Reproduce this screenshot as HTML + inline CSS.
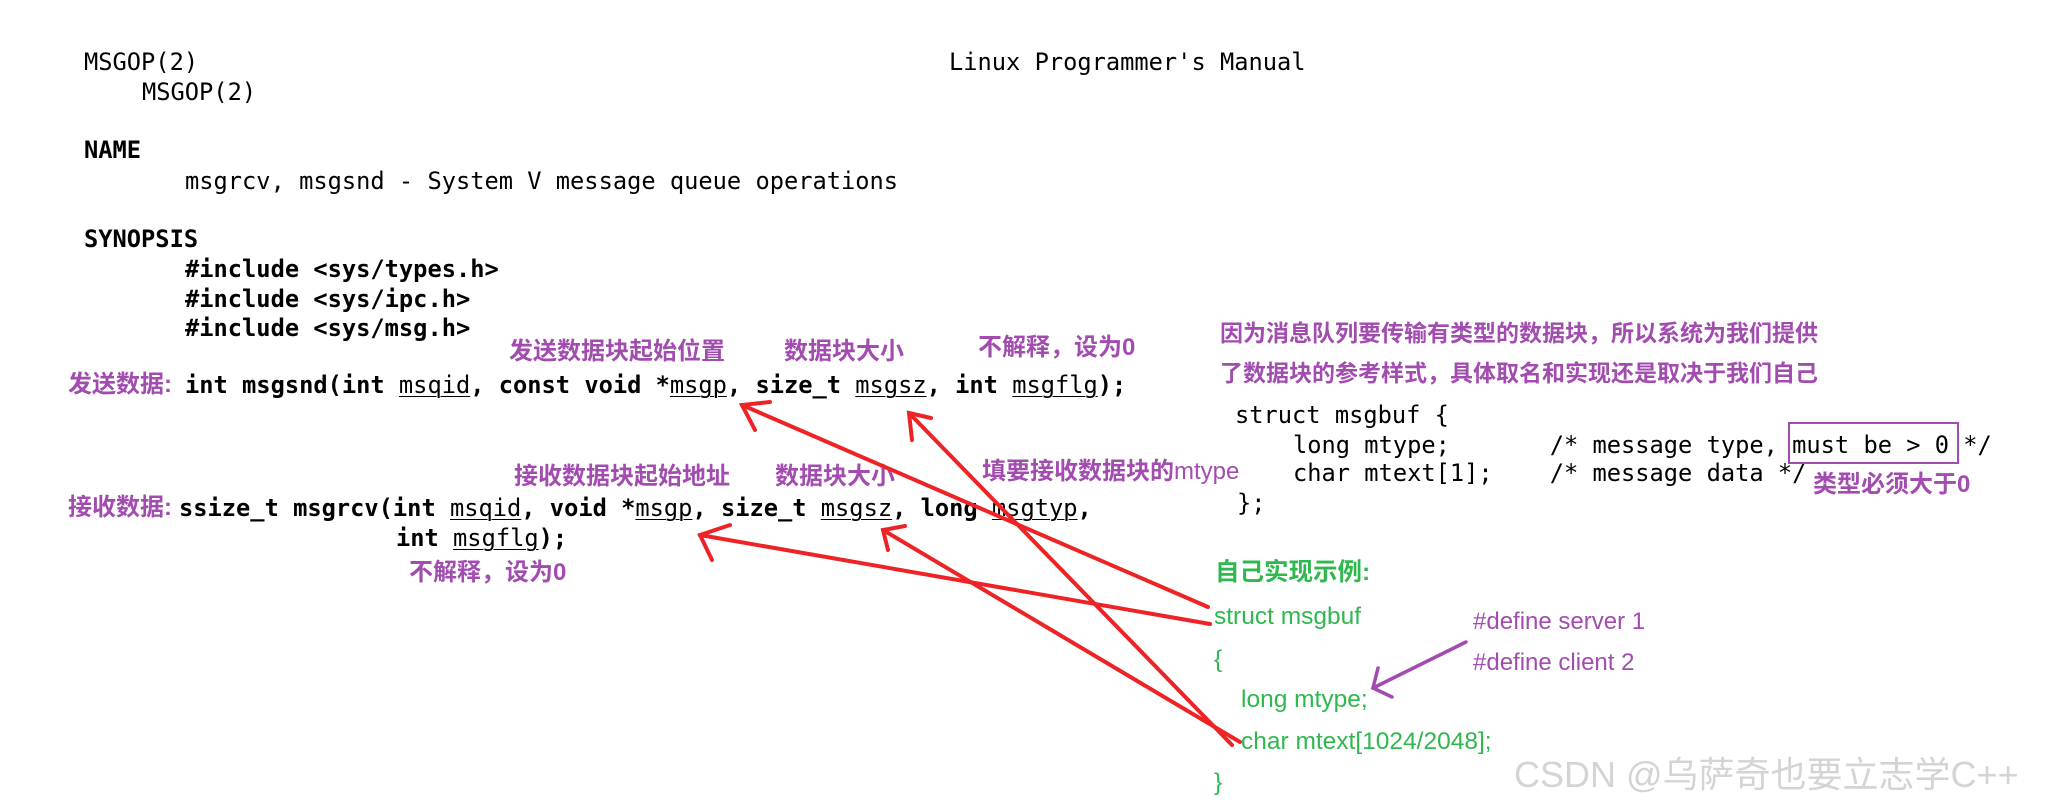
<!DOCTYPE html>
<html><head><meta charset="utf-8"><style>
body{margin:0;width:2067px;height:809px;background:#fff;position:relative;overflow:hidden}
.t{position:absolute;white-space:pre;line-height:30px}
.m{font-family:"DejaVu Sans Mono","Liberation Mono",monospace;font-size:23.7px;color:#000}
.b{font-weight:bold}
.p{font-family:"Liberation Sans","Noto Sans CJK SC",sans-serif;font-size:24px;color:#a24cb0;font-weight:bold}
.g{font-family:"Liberation Sans","Noto Sans CJK SC",sans-serif;font-size:24.5px;color:#2eb84e}
u{text-decoration:underline;text-decoration-thickness:1px;text-underline-offset:3px}
</style></head><body>
<div class="t m" style="left:84px;top:47px">MSGOP(2)</div>
<div class="t m" style="left:949px;top:47px">Linux Programmer's Manual</div>
<div class="t m" style="left:142px;top:77px">MSGOP(2)</div>
<div class="t m b" style="left:84px;top:135px">NAME</div>
<div class="t m" style="left:185px;top:166px">msgrcv, msgsnd - System V message queue operations</div>
<div class="t m b" style="left:84px;top:224px">SYNOPSIS</div>
<div class="t m b" style="left:185px;top:254px">#include &lt;sys/types.h&gt;</div>
<div class="t m b" style="left:185px;top:284px">#include &lt;sys/ipc.h&gt;</div>
<div class="t m b" style="left:185px;top:313px">#include &lt;sys/msg.h&gt;</div>

<div class="t p" style="left:509px;top:337px">发送数据块起始位置</div>
<div class="t p" style="left:784px;top:337px">数据块大小</div>
<div class="t p" style="left:978px;top:333px">不解释，设为0</div>
<div class="t p" style="left:68px;top:370px">发送数据:</div>
<div class="t m b" style="left:185px;top:370px">int msgsnd(int <u style="font-weight:normal">msqid</u>, const void *<u style="font-weight:normal">msgp</u>, size_t <u style="font-weight:normal">msgsz</u>, int <u style="font-weight:normal">msgflg</u>);</div>

<div class="t p" style="left:514px;top:462px">接收数据块起始地址</div>
<div class="t p" style="left:775px;top:462px">数据块大小</div>
<div class="t p" style="left:982px;top:457px">填要接收数据块的<span style="font-weight:normal">mtype</span></div>
<div class="t p" style="left:68px;top:493px">接收数据:</div>
<div class="t m b" style="left:179px;top:493px">ssize_t msgrcv(int <u style="font-weight:normal">msqid</u>, void *<u style="font-weight:normal">msgp</u>, size_t <u style="font-weight:normal">msgsz</u>, long <u style="font-weight:normal">msgtyp</u>,</div>
<div class="t m b" style="left:396px;top:523px">int <u style="font-weight:normal">msgflg</u>);</div>
<div class="t p" style="left:409px;top:558px">不解释，设为0</div>

<div class="t p" style="left:1220px;top:318px;font-size:23px">因为消息队列要传输有类型的数据块，所以系统为我们提供</div>
<div class="t p" style="left:1220px;top:358px;font-size:23px">了数据块的参考样式，具体取名和实现还是取决于我们自己</div>
<div class="t m" style="left:1235px;top:400px">struct msgbuf {</div>
<div class="t m" style="left:1293px;top:430px">long mtype;       /* message type, must be &gt; 0 */</div>
<div class="t m" style="left:1293px;top:458px">char mtext[1];    /* message data */</div>
<div class="t m" style="left:1237px;top:488px">};</div>
<div style="position:absolute;left:1788px;top:422px;width:167px;height:38px;border:2.5px solid #a24cb0"></div>
<div class="t p" style="left:1813px;top:470px">类型必须大于0</div>

<div class="t g" style="left:1215px;top:558px;font-weight:bold;font-size:24.5px">自己实现示例:</div>
<div class="t g" style="left:1214px;top:602px">struct msgbuf</div>
<div class="t g" style="left:1214px;top:645px">{</div>
<div class="t g" style="left:1241px;top:685px">long mtype;</div>
<div class="t g" style="left:1241px;top:727px">char mtext[1024/2048];</div>
<div class="t g" style="left:1214px;top:768px">}</div>
<div class="t" style="left:1473px;top:607px;font-family:'Liberation Sans',sans-serif;font-size:24px;color:#a24cb0">#define server 1</div>
<div class="t" style="left:1473px;top:648px;font-family:'Liberation Sans',sans-serif;font-size:24px;color:#a24cb0">#define client 2</div>
<div class="t" style="left:1514px;top:755px;font-family:'Liberation Sans','Noto Sans CJK SC',sans-serif;font-size:36px;color:#d4d4d4;line-height:40px">CSDN @乌萨奇也要立志学C++</div>

<svg width="2067" height="809" style="position:absolute;left:0;top:0" fill="none" stroke-linecap="round">
<g stroke="#ee2326" stroke-width="4">
<line x1="1208" y1="607" x2="742" y2="405"/><polyline points="755,430 742,405 770,402"/>
<line x1="1232" y1="745" x2="909" y2="413"/><polyline points="912,440 909,413 931,418"/>
<line x1="1210" y1="624" x2="700" y2="535"/><polyline points="712,560 700,535 730,525"/>
<line x1="1240" y1="742" x2="883" y2="530"/><polyline points="888,550 883,530 905,526"/>
</g>
<g stroke="#a24cb0" stroke-width="3.5">
<line x1="1466" y1="642" x2="1373" y2="688"/><polyline points="1378,668 1373,688 1392,697"/>
</g>
</svg>
</body></html>
